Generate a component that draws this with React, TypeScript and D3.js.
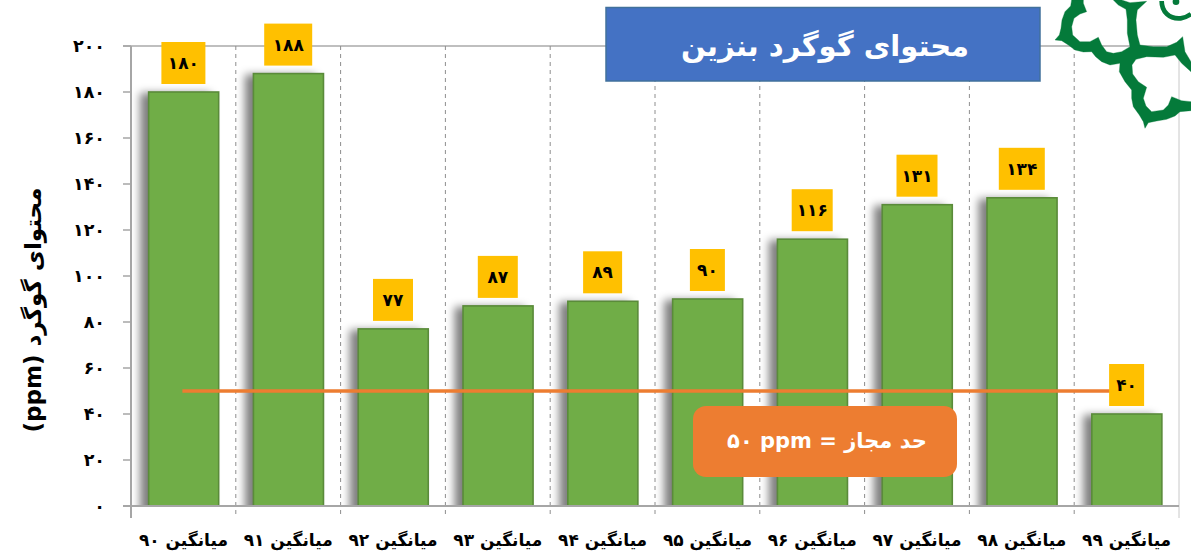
import React from "react";
import * as d3 from "d3";

const categories = ["۹۰", "۹۱", "۹۲", "۹۳", "۹۴", "۹۵", "۹۶", "۹۷", "۹۸", "۹۹"];
const sulfur = [180, 188, 77, 87, 89, 90, 116, 131, 134, 40];
const labelWidths = [44, 48, 40, 40, 39, 35, 41, 41, 46, 35];
const yTicks = [0, 20, 40, 60, 80, 100, 120, 140, 160, 180, 200];
const limitValue = 50;
const titleText = "محتوای گوگرد بنزین";
const yAxisTitle = "محتوای گوگرد (ppm)";
const limitText = "حد مجاز = ppm \u200F۵۰";
const categoryPrefix = "میانگین";

const W = 1191;
const H = 556;
const FONT = "'DejaVu Sans', sans-serif";

const toFa = (v: number | string) =>
  String(v).replace(/\d/g, (d) => "۰۱۲۳۴۵۶۷۸۹"[+d]);

const x = d3
  .scaleBand<string>()
  .domain(categories)
  .range([131, 1179])
  .paddingInner(0.327)
  .paddingOuter(0.1635);
const y = d3.scaleLinear().domain([0, 200]).range([506, 46]);

const edges = d3.range(categories.length + 1).map((i) => 131 + i * x.step());

const logoOutline =
  "M65,0 L62,18 L45,35 L36,60 L33,85 L28,105 L15,120 L35,122 L55,135 L75,150 L100,156 L125,155 L137,170 L155,185 L180,195 L210,190 " +
  "L208,215 L225,245 L245,270 L245,295 L250,320 L268,345 L280,365 L285,385 L295,368 L320,363 L350,358 L375,348 L390,335 L423,332 L423,305 " +
  "L395,302 L365,290 L355,315 L340,330 L305,335 L288,318 L280,295 L290,262 L265,245 L248,222 L246,195 L258,178 L290,170 L340,172 L375,165 " +
  "L395,190 L423,215 L423,185 L405,155 L398,110 L380,127 L350,140 L310,140 L270,135 L262,105 L258,60 L262,30 L290,4 L240,8 L215,0 L190,0 " +
  "L205,15 L228,28 L232,60 L232,100 L240,140 L215,155 L190,160 L170,155 L155,135 L145,112 L120,125 L90,125 L68,105 L65,80 L72,55 L90,42 L110,35 L100,10 L100,0 Z";
const logoCrescent = "M335,3 C335,35 358,58 392,55 C405,53 415,48 423,42";

export default function App() {
  return (
    <svg
      width={W}
      height={H}
      viewBox={`0 0 ${W} ${H}`}
      style={{ position: "absolute", left: 0, top: 0, display: "block", background: "#fff" }}
      fontFamily={FONT}
    >
      <defs>
        <filter id="barShadow" x="-60%" y="-20%" width="220%" height="140%">
          <feGaussianBlur stdDeviation="4" />
        </filter>
        <clipPath id="plotClip">
          <rect x={125} y={30} width={1060} height={y(0) - 30} />
        </clipPath>
      </defs>

      {/* top gridline */}
      <line x1={123} x2={1179} y1={y(200)} y2={y(200)} stroke="#BFBFBF" strokeWidth={2} />

      {/* category separators */}
      {edges.map((ex, i) => {
        const solid = i === 0 || i === edges.length - 1;
        return (
          <line
            key={i}
            x1={ex}
            x2={ex}
            y1={y(200)}
            y2={y(0) + 12}
            stroke={i === 0 ? "#A6A6A6" : solid ? "#C8C8C8" : "#8E8E8E"}
            strokeWidth={i === 0 ? 2 : 1}
            strokeDasharray={solid ? undefined : "4 4"}
          />
        );
      })}

      {/* y ticks */}
      {yTicks.map((t) => (
        <g key={t}>
          <line x1={123} x2={131} y1={y(t)} y2={y(t)} stroke="#A6A6A6" strokeWidth={1.5} />
          <text x={105} y={y(t) + 6} textAnchor="end" fontSize={17.5} fontWeight={700} fill="#000">
            {toFa(t)}
          </text>
        </g>
      ))}

      {/* bar shadows */}
      <g clipPath="url(#plotClip)">
        {categories.map((c, i) => (
          <rect
            key={c}
            x={x(c)! - 8}
            y={y(sulfur[i]) + 1}
            width={x.bandwidth()}
            height={y(0) - y(sulfur[i]) + 20}
            fill="#000"
            fillOpacity={0.5}
            filter="url(#barShadow)"
          />
        ))}
      </g>

      {/* bars */}
      {categories.map((c, i) => (
        <rect
          key={c}
          x={x(c)! + 0.5}
          y={y(sulfur[i])}
          width={x.bandwidth() - 0.5}
          height={y(0) - y(sulfur[i])}
          fill="#70AD47"
          stroke="#5A8B3A"
          strokeWidth={1.6}
        />
      ))}

      <line x1={123} x2={1179} y1={y(0)} y2={y(0)} stroke="#A6A6A6" strokeWidth={2} />

      {/* limit line */}
      <line
        x1={x(categories[0])! + x.bandwidth() / 2 - 1}
        x2={x(categories[9])! + x.bandwidth() / 2}
        y1={y(limitValue)}
        y2={y(limitValue)}
        stroke="#ED7D31"
        strokeWidth={3.6}
      />

      {/* value labels */}
      {categories.map((c, i) => {
        const cx = x(c)! + x.bandwidth() / 2;
        const bw = labelWidths[i];
        const top = y(sulfur[i]) - 50;
        return (
          <g key={c}>
            <rect x={cx - bw / 2} y={top} width={bw} height={42} fill="#FFC000" />
            <text x={cx} y={top + 27} textAnchor="middle" fontSize={17} fontWeight={700} fill="#000">
              {toFa(sulfur[i])}
            </text>
          </g>
        );
      })}

      {/* category labels */}
      {categories.map((c) => (
        <text
          key={c}
          x={x(c)! + x.bandwidth() / 2}
          y={546}
          textAnchor="middle"
          fontSize={17}
          fontWeight={700}
          fill="#000"
          direction="rtl"
          style={{ unicodeBidi: "plaintext" }}
        >
          {`${categoryPrefix} ${c}`}
        </text>
      ))}

      {/* y axis title */}
      <text
        transform="translate(41,310) rotate(-90)"
        textAnchor="middle"
        fontSize={23}
        fontWeight={700}
        fill="#000"
        direction="rtl"
        style={{ unicodeBidi: "plaintext" }}
      >
        {yAxisTitle}
      </text>

      {/* limit callout */}
      <rect x={693} y={406} width={264} height={71} rx={13} fill="#ED7D31" />
      <text
        x={827}
        y={448}
        textAnchor="middle"
        fontSize={21}
        fontWeight={700}
        fill="#fff"
        direction="rtl"
        style={{ unicodeBidi: "plaintext" }}
      >
        {limitText}
      </text>

      {/* title */}
      <rect x={606} y={7.5} width={434} height={73.5} fill="#4472C4" stroke="#41719C" strokeWidth={1.5} />
      <text
        x={825}
        y={56}
        textAnchor="middle"
        fontSize={29}
        fontWeight={700}
        fill="#fff"
        direction="rtl"
        style={{ unicodeBidi: "plaintext" }}
      >
        {titleText}
      </text>

      {/* emblem */}
      <g transform="translate(1050,0) scale(0.3333)">
        <path d={logoOutline} fill="#047A3A" stroke="#047A3A" strokeWidth={1} strokeLinejoin="round" />
        <path d={logoCrescent} fill="none" stroke="#047A3A" strokeWidth={14} />
        <circle cx={378} cy={5} r={10} fill="#047A3A" />
      </g>
    </svg>
  );
}
